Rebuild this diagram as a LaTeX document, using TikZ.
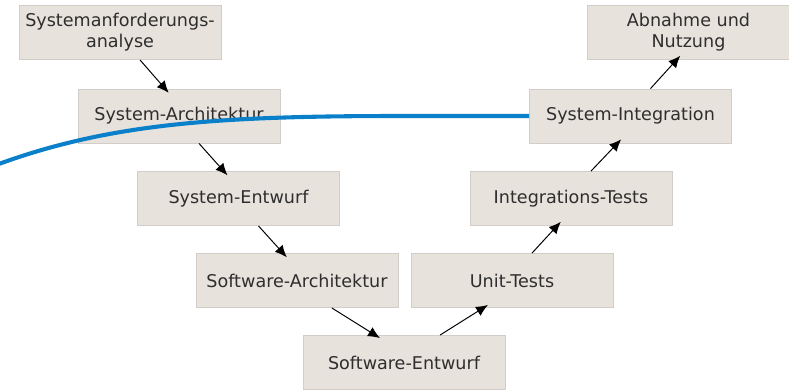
\documentclass[tikz,border=0pt]{standalone}
\usepackage{fontspec}
\setmainfont{DejaVu Sans}
\usetikzlibrary{arrows.meta}

\definecolor{boxfill}{HTML}{E8E2DD}
\definecolor{boxline}{HTML}{D2CDC8}
\definecolor{boxtext}{HTML}{2E2E2E}
\definecolor{curveblue}{HTML}{0A80CA}

\begin{document}
\begin{tikzpicture}[x=0.025cm, y=-0.025cm,
    phase/.style={draw=boxline, fill=boxfill, text=boxtext, line width=0.6pt,
        minimum width=5.05cm, minimum height=1.35cm, inner sep=0pt,
        align=center, font=\fontsize{12.5}{15}\selectfont},
    flow/.style={-{Latex[length=8.5pt,width=7.5pt]}, line width=0.7pt, shorten >=-4pt}]

    % Fix the canvas to the size of the reference
    \useasboundingbox (0,0) rectangle (789,391);

    % Left branch of the V (specification)
    \node[phase] (sra)    at (120,32.5)   {Systemanforderungs-\\analyse};
    \node[phase] (sarch)  at (179,116)    {System-Architektur};
    \node[phase] (sentw)  at (238.5,198.5) {System-Entwurf};
    \node[phase] (swarch) at (297,280.5)  {Software-Architektur};

    % Bottom of the V
    \node[phase] (swentw) at (404,362.5)  {Software-Entwurf};

    % Right branch of the V (verification)
    \node[phase] (unit)   at (512,280.5)  {Unit-Tests};
    \node[phase] (integ)  at (571,198.5)  {Integrations-Tests};
    \node[phase] (sint)   at (630.5,116)  {System-Integration};
    \node[phase] (abn)    at (688.5,32.5) {Abnahme und\\Nutzung};

    % Arrows going down the left branch
    \draw[flow] ([xshift=0.5cm]sra.south)    -- ([xshift=-0.35cm]sarch.north);
    \draw[flow] ([xshift=0.5cm]sarch.south)  -- ([xshift=-0.37cm]sentw.north);
    \draw[flow] ([xshift=0.5cm]sentw.south)  -- ([xshift=-0.35cm]swarch.north);
    \draw[flow] ([xshift=0.87cm]swarch.south) -- ([xshift=-0.72cm]swentw.north);

    % Arrows going up the right branch
    \draw[flow] ([xshift=0.9cm]swentw.north) -- ([xshift=-0.72cm]unit.south);
    \draw[flow] ([xshift=0.5cm]unit.north)   -- ([xshift=-0.35cm]integ.south);
    \draw[flow] ([xshift=0.5cm]integ.north)  -- ([xshift=-0.33cm]sint.south);
    \draw[flow] ([xshift=0.5cm]sint.north)   -- ([xshift=-0.3cm]abn.south);

    % Blue curve coming in from the left edge into System-Integration
    \coordinate (entry) at (-4,165);
    \draw[curveblue, line width=2.9pt]
        (entry) .. controls (110,123) and (220,116) .. (400,116) -- (sint.west);

\end{tikzpicture}
\end{document}
